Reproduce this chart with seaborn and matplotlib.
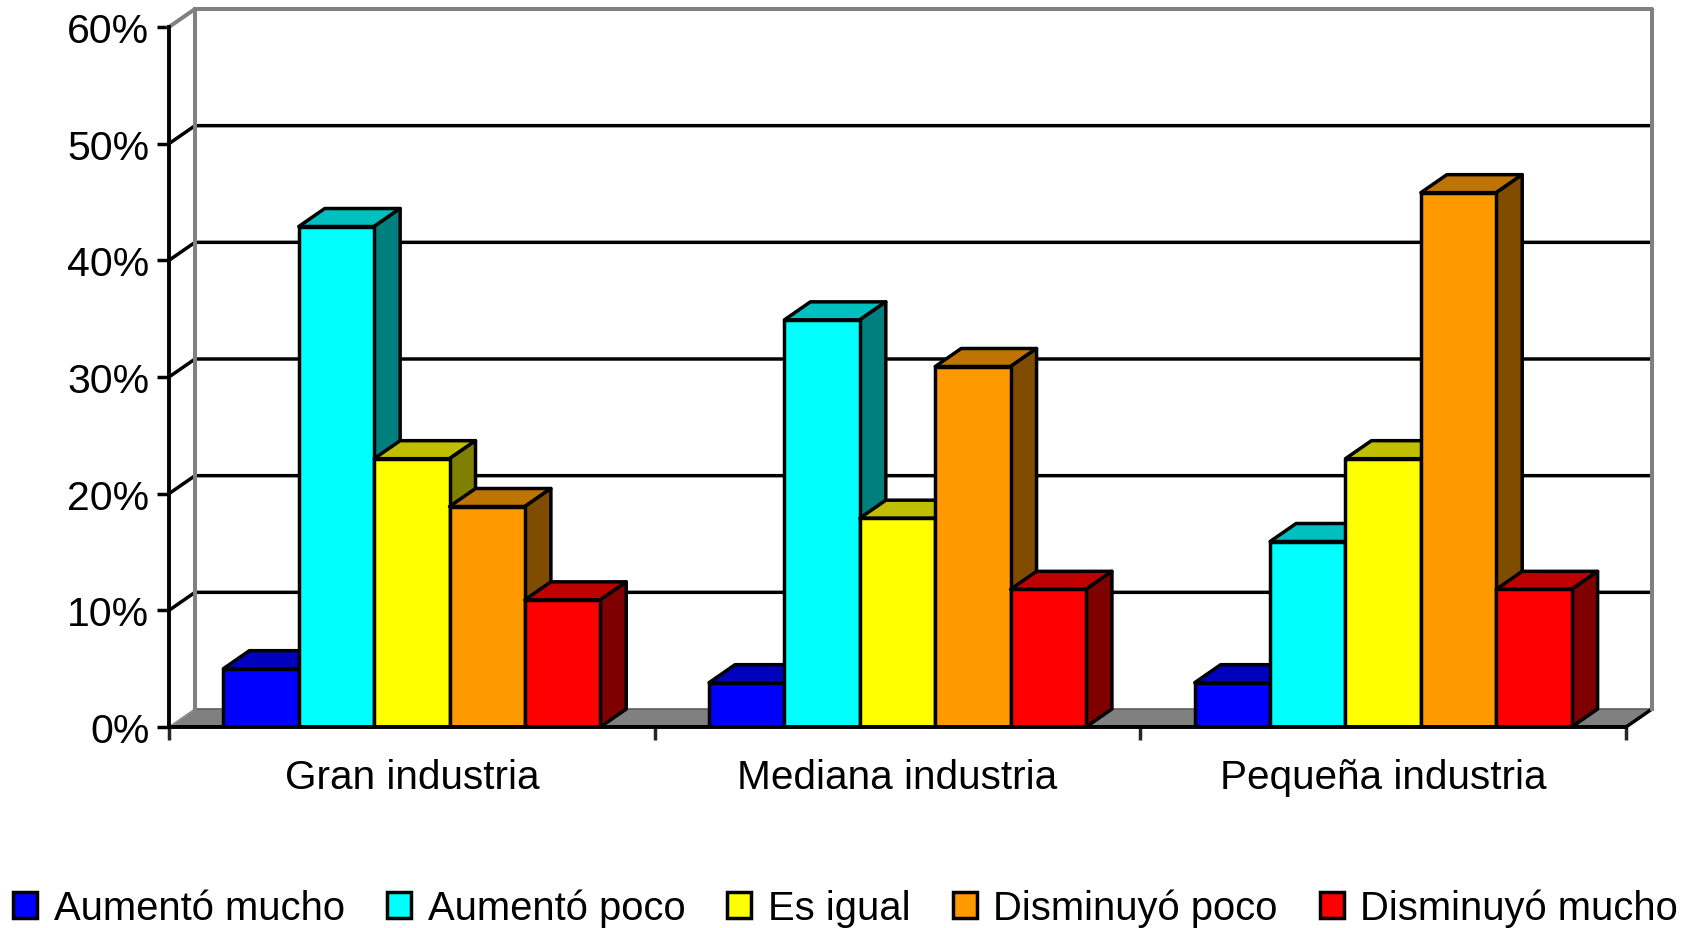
"""Grouped pseudo-3D bar chart, Excel style, from seaborn bars plus shaded faces."""

import matplotlib.pyplot as plt
import pandas as pd
import seaborn as sns
from matplotlib.patches import Polygon

CATEGORIES = ["Gran industria", "Mediana industria", "Pequeña industria"]
SERIES = ["Aumentó mucho", "Aumentó poco", "Es igual", "Disminuyó poco", "Disminuyó mucho"]
AUMENTO_MUCHO = [5, 3.8, 3.8]
AUMENTO_POCO = [42.9, 34.9, 15.9]
ES_IGUAL = [23, 17.9, 23]
DISMINUYO_POCO = [18.9, 30.9, 45.8]
DISMINUYO_MUCHO = [10.9, 11.8, 11.8]
Y_TICKS = [0, 10, 20, 30, 40, 50, 60]

FRONT = ["#0000FF", "#00FFFF", "#FFFF00", "#FF9900", "#FF0000"]
TOP = ["#0000BF", "#00BFBF", "#BFBF00", "#BF7300", "#BF0000"]
SIDE = ["#00007F", "#007F7F", "#7F7F00", "#7F4C00", "#7F0000"]

WIDTH, HEIGHT = 1688, 929
LEFT, RIGHT, TOP_PX, BOTTOM = 169, 1626, 28, 728
DEPTH_X_PX, DEPTH_Y_PX = 26, 18
LW = 2.5

sns.set_style("white")
plt.rcParams["font.family"] = ["Liberation Sans", "DejaVu Sans"]
plt.rcParams["text.color"] = "black"

values = [AUMENTO_MUCHO, AUMENTO_POCO, ES_IGUAL, DISMINUYO_POCO, DISMINUYO_MUCHO]
df = pd.DataFrame(
    [(c, s, v[i]) for s, v in zip(SERIES, values) for i, c in enumerate(CATEGORIES)],
    columns=["categoria", "serie", "valor"],
)

fig = plt.figure(figsize=(WIDTH / 100, HEIGHT / 100), dpi=100)
ax = fig.add_axes([LEFT / WIDTH, 1 - BOTTOM / HEIGHT, (RIGHT - LEFT) / WIDTH, (BOTTOM - TOP_PX) / HEIGHT])

sns.barplot(data=df, x="categoria", y="valor", hue="serie", hue_order=SERIES,
            palette=FRONT, width=0.776, gap=0, errorbar=None, saturation=1,
            edgecolor="black", linewidth=LW, ax=ax, zorder=3)

ax.set_xlim(-0.5, 2.5)
ax.set_ylim(Y_TICKS[0], Y_TICKS[-1])
x0, x1 = ax.get_xlim()
dx = DEPTH_X_PX * (x1 - x0) / (RIGHT - LEFT)
dy = DEPTH_Y_PX * Y_TICKS[-1] / (BOTTOM - TOP_PX)

# floor and walls
ax.add_patch(Polygon([(x0, 0), (x0 + dx, dy), (x1 + dx, dy), (x1, 0)], closed=True,
                     facecolor="#808080", edgecolor="none", zorder=1, clip_on=False))
ax.plot([x0 + dx, x1 + dx], [dy, dy], color="#606060", lw=1.2, zorder=1.2, clip_on=False)
wall = dict(color="#808080", lw=2.9, zorder=1.6, clip_on=False, solid_capstyle="projecting")
ax.plot([x0, x0 + dx, x1 + dx, x1 + dx], [Y_TICKS[-1], Y_TICKS[-1] + dy, Y_TICKS[-1] + dy, dy], **wall)
ax.plot([x0 + dx, x0 + dx], [dy, Y_TICKS[-1] + dy], **wall)
ax.plot([x0, x0 + dx], [0, dy], color="#909090", lw=1.2, zorder=1.3, clip_on=False)
ax.plot([x1, x1 + dx], [0, dy], color="black", lw=LW, zorder=1.3, clip_on=False)

for t in Y_TICKS[1:-1]:
    ax.plot([x0, x0 + dx, x1 + dx], [t, t + dy, t + dy], color="black", lw=LW, zorder=1.5,
            clip_on=False, solid_joinstyle="miter")

# top and side faces, painted left to right so each bar covers its neighbour
bars = [(p, i) for i, c in enumerate(ax.containers) for p in c]
bars.sort(key=lambda b: b[0].get_x())
for n, (bar, s) in enumerate(bars):
    xa, xb = bar.get_x(), bar.get_x() + bar.get_width()
    h = bar.get_height()
    z = 3 + n * 0.01
    bar.set_zorder(z)
    bar.set_joinstyle("round")
    ax.add_patch(Polygon([(xa, h), (xa + dx, h + dy), (xb + dx, h + dy), (xb, h)], closed=True,
                         facecolor=TOP[s], edgecolor="black", linewidth=LW, zorder=z - 0.002,
                         joinstyle="round", clip_on=False))
    ax.add_patch(Polygon([(xb, 0), (xb + dx, dy), (xb + dx, h + dy), (xb, h)], closed=True,
                         facecolor=SIDE[s], edgecolor="black", linewidth=LW, zorder=z - 0.001,
                         joinstyle="round", clip_on=False))

# axes furniture
ax.set_xlabel("")
ax.set_ylabel("")
ax.set_yticks(Y_TICKS)
ax.set_yticklabels([f"{t}%" for t in Y_TICKS])
ax.tick_params(axis="y", left=True, length=8.6, width=2.5, pad=5.5, labelsize=29.5, colors="black")
ax.set_xticks([-0.5, 0.5, 1.5, 2.5], minor=True)
ax.tick_params(axis="x", which="minor", bottom=True, length=9.2, width=2.5)
ax.tick_params(axis="x", which="major", bottom=False, length=0, pad=22.5, labelsize=29.2, colors="black")

sns.despine(ax=ax, top=True, right=True)
for name in ("left", "bottom"):
    ax.spines[name].set_linewidth(2.8)
    ax.spines[name].set_color("black")
    ax.spines[name].set_zorder(10)

sns.move_legend(ax, "lower left", bbox_to_anchor=(7 / WIDTH, -5 / HEIGHT), bbox_transform=fig.transFigure,
                ncol=5, title=None, frameon=False, fontsize=28.8, handlelength=0.6,
                handleheight=0.6, handletextpad=0.42, columnspacing=1.05, borderpad=0.15,
                borderaxespad=0)
for handle in ax.get_legend().get_patches():
    handle.set_linewidth(2.5)

fig.savefig("out.png", dpi=100, facecolor="white")
